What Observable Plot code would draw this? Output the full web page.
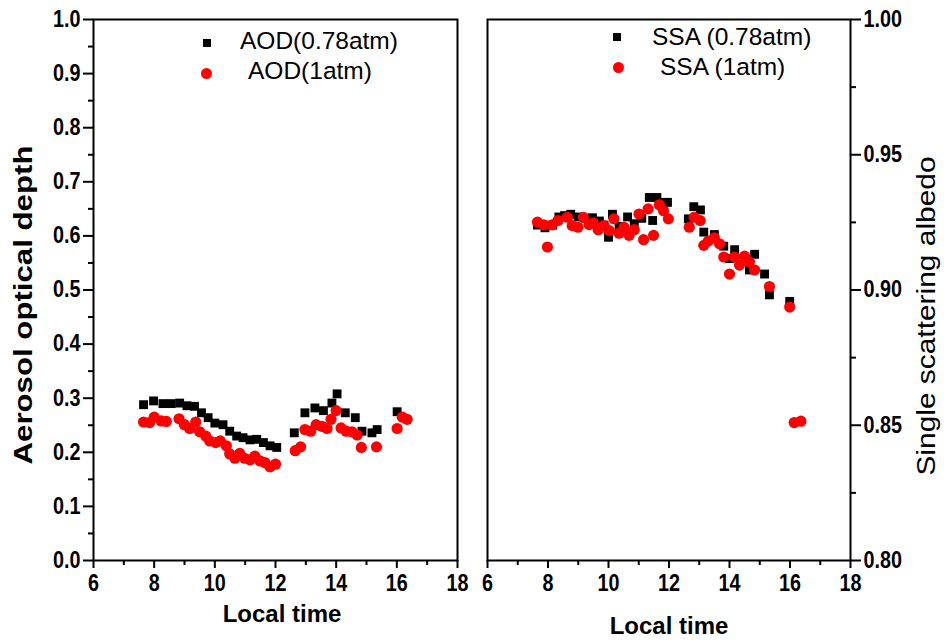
<!DOCTYPE html>
<html>
<head>
<meta charset="utf-8">
<script src="https://cdn.jsdelivr.net/npm/d3@7"></script>
<script src="https://cdn.jsdelivr.net/npm/@observablehq/plot@0.6"></script>
<style>
  html, body { margin: 0; padding: 0; background: #fff; }
  #wrap { position: relative; width: 951px; height: 640px; overflow: hidden; font-family: "Liberation Sans", Arial, sans-serif; color: #000; }
  #wrap svg { position: absolute; top: 0; overflow: visible; }
  .lab { position: absolute; white-space: nowrap; line-height: 1; }
</style>
</head>
<body>
<div id="wrap"></div>
<script>
// ---- data ----
const aodTime078 = [7.65,7.98,8.29,8.56,8.84,9.08,9.33,9.56,9.78,10.0,10.27,10.49,10.72,10.93,11.16,11.38,11.6,11.82,12.04,12.62,12.97,13.3,13.58,13.86,14.03,14.3,14.63,14.85,15.18,15.35,16.01];
const aod078 = [0.288,0.295,0.29,0.29,0.291,0.286,0.285,0.273,0.264,0.254,0.251,0.239,0.23,0.227,0.223,0.224,0.218,0.212,0.209,0.236,0.273,0.282,0.277,0.291,0.308,0.273,0.264,0.239,0.236,0.242,0.275];
const aodTime1 = [7.65,7.85,8.0,8.23,8.4,8.82,9.0,9.17,9.37,9.5,9.7,9.83,10.03,10.18,10.38,10.49,10.66,10.82,10.98,11.16,11.32,11.49,11.65,11.82,12.0,12.65,12.83,12.97,13.16,13.34,13.53,13.7,13.83,14.0,14.16,14.33,14.52,14.69,14.83,15.33,16.01,16.18,16.34];
const aod1 = [0.256,0.255,0.265,0.258,0.257,0.262,0.251,0.244,0.256,0.238,0.23,0.221,0.218,0.221,0.212,0.197,0.189,0.198,0.189,0.186,0.193,0.184,0.181,0.173,0.178,0.203,0.21,0.242,0.239,0.251,0.248,0.244,0.261,0.277,0.245,0.239,0.238,0.232,0.209,0.21,0.244,0.265,0.261];

const ssaTime078 = [7.65,7.9,8.15,8.36,8.55,8.75,9.0,9.25,9.47,9.7,9.85,10.0,10.13,10.35,10.63,10.85,11.1,11.35,11.46,11.6,11.84,11.95,12.64,12.82,13.04,13.15,13.5,13.81,14.0,14.17,14.66,14.83,15.16,15.32,15.99];
const ssa078 = [0.924,0.923,0.924,0.927,0.9275,0.928,0.927,0.9265,0.9267,0.9255,0.924,0.9195,0.928,0.9235,0.927,0.9245,0.9265,0.9342,0.9257,0.9342,0.9324,0.9324,0.9263,0.9308,0.9296,0.9214,0.9205,0.9162,0.9116,0.9149,0.9074,0.9132,0.9059,0.8982,0.8958];
const ssaTime1 = [7.65,7.86,7.98,8.14,8.33,8.64,8.8,8.99,9.17,9.36,9.5,9.66,9.85,10.02,10.18,10.35,10.51,10.68,10.85,11.01,11.16,11.31,11.49,11.68,11.82,11.98,12.67,12.83,13.03,13.15,13.3,13.5,13.67,13.81,14.0,14.17,14.33,14.5,14.66,14.83,15.32,15.99,16.14,16.36];
const ssa1 = [0.9251,0.9241,0.9159,0.9241,0.9257,0.9269,0.9238,0.9232,0.9269,0.9242,0.9248,0.9223,0.9238,0.922,0.9263,0.921,0.9232,0.9202,0.9223,0.9281,0.9186,0.93,0.9202,0.9315,0.9293,0.9263,0.9232,0.9269,0.9257,0.9165,0.9181,0.9193,0.9171,0.9122,0.9059,0.9122,0.9092,0.9125,0.9104,0.9074,0.9013,0.8937,0.851,0.8515];

const xMajor = [6,8,10,12,14,16,18];
const xMinor = [7,9,11,13,15,17];
const aodMajor = [0,0.1,0.2,0.3,0.4,0.5,0.6,0.7,0.8,0.9,1.0];
const aodMinor = [0.05,0.15,0.25,0.35,0.45,0.55,0.65,0.75,0.85,0.95];
const ssaMajor = [0.80,0.85,0.90,0.95,1.00];
const ssaMinor = [0.825,0.875,0.925,0.975];

const xLabel = "Local time";
const aodLabel = "Aerosol optical depth";
const ssaLabel = "Single scattering albedo";
const aodLegend = ["AOD(0.78atm)", "AOD(1atm)"];
const ssaLegend = ["SSA (0.78atm)", "SSA (1atm)"];

const zip = (xs, ys) => xs.map((x, i) => ({x, y: ys[i]}));

const FONT = "'Liberation Sans', Arial, sans-serif";
const baseStyle = {fontFamily: FONT, fontSize: "23px", fontWeight: "bold", color: "#000", background: "transparent", overflow: "visible"};

function xAxes() {
  return [
    Plot.axisX({ticks: xMajor, tickSize: 8, strokeWidth: 2, tickPadding: 6, tickFormat: d3.format("d"), label: null}),
    Plot.axisX({ticks: xMinor, tickSize: 5, strokeWidth: 2, tickFormat: () => "", label: null})
  ];
}

const left = Plot.plot({
  width: 470, height: 640,
  marginLeft: 93, marginRight: 13, marginTop: 19, marginBottom: 80,
  x: {domain: [6, 18]},
  y: {domain: [0, 1]},
  style: baseStyle,
  marks: [
    ...xAxes(),
    Plot.axisY({ticks: aodMajor, tickSize: 10, strokeWidth: 2, tickPadding: 3, tickFormat: d3.format(".1f"), label: null}),
    Plot.axisY({ticks: aodMinor, tickSize: 5, strokeWidth: 2, tickFormat: () => "", label: null}),
    Plot.dot(zip(aodTime078, aod078), {x: "x", y: "y", symbol: "square", r: 5, fill: "#000", stroke: "none"}),
    Plot.dot(zip(aodTime1, aod1), {x: "x", y: "y", symbol: "circle", r: 5.6, fill: "#ff0000", stroke: "none"}),
    Plot.frame({stroke: "#000", strokeWidth: 2})
  ]
});
left.style.left = "0px";

const right = Plot.plot({
  width: 481, height: 640,
  marginLeft: 17, marginRight: 101, marginTop: 19, marginBottom: 80,
  x: {domain: [6, 18]},
  y: {domain: [0.8, 1.0]},
  style: baseStyle,
  marks: [
    ...xAxes(),
    Plot.axisY({anchor: "right", ticks: ssaMajor, tickSize: 10, strokeWidth: 2, tickPadding: 3, tickFormat: d3.format(".2f"), label: null}),
    Plot.axisY({anchor: "right", ticks: ssaMinor, tickSize: 5, strokeWidth: 2, tickFormat: () => "", label: null}),
    Plot.dot(zip(ssaTime078, ssa078), {x: "x", y: "y", symbol: "square", r: 5, fill: "#000", stroke: "none"}),
    Plot.dot(zip(ssaTime1, ssa1), {x: "x", y: "y", symbol: "circle", r: 5.6, fill: "#ff0000", stroke: "none"}),
    Plot.frame({stroke: "#000", strokeWidth: 2})
  ]
});
right.style.left = "470px";

// narrow the tick label glyphs a little (condensed look of the original), around each anchor point
for (const svg of [left, right]) {
  svg.querySelectorAll("text").forEach(el => {
    const x = +el.getAttribute("x") || 0, y = +el.getAttribute("y") || 0;
    const t = el.getAttribute("transform") || "";
    el.setAttribute("transform", `${t} translate(${x},${y}) scale(0.86,1) translate(${-x},${-y})`);
  });
}

const wrap = document.getElementById("wrap");
wrap.appendChild(left);
wrap.appendChild(right);

function addLabel(text, css) {
  const d = document.createElement("div");
  d.className = "lab";
  d.textContent = text;
  Object.assign(d.style, css);
  wrap.appendChild(d);
  return d;
}

// axis titles
addLabel(xLabel, {left: "282px", top: "614px", fontSize: "24px", fontWeight: "bold", transform: "translate(-50%,-50%)"});
addLabel(xLabel, {left: "669px", top: "626px", fontSize: "24px", fontWeight: "bold", transform: "translate(-50%,-50%)"});
addLabel(aodLabel, {left: "23px", top: "305px", fontSize: "26px", fontWeight: "bold", transform: "translate(-50%,-50%) rotate(-90deg) scaleX(1.2)"});
addLabel(ssaLabel, {left: "926px", top: "316px", fontSize: "26px", fontWeight: "normal", transform: "translate(-50%,-50%) rotate(-90deg) scaleX(1.15)"});

// legends
function legendMarker(kind, cx, cy) {
  const d = document.createElement("div");
  d.style.position = "absolute";
  if (kind === "square") {
    Object.assign(d.style, {left: (cx - 4) + "px", top: (cy - 4) + "px", width: "8px", height: "8px", background: "#000"});
  } else {
    Object.assign(d.style, {left: (cx - 5.5) + "px", top: (cy - 5.5) + "px", width: "11px", height: "11px", background: "#ff0000", borderRadius: "50%"});
  }
  wrap.appendChild(d);
}
legendMarker("square", 207, 43);
legendMarker("circle", 206, 73);
addLabel(aodLegend[0], {left: "240px", top: "49px", fontSize: "24.5px", transform: "translateY(-82%)"});
addLabel(aodLegend[1], {left: "248px", top: "79px", fontSize: "24.5px", transform: "translateY(-82%)"});
legendMarker("square", 617, 37);
legendMarker("circle", 618, 67);
addLabel(ssaLegend[0], {left: "652px", top: "45px", fontSize: "24.5px", transform: "translateY(-82%)"});
addLabel(ssaLegend[1], {left: "660px", top: "75px", fontSize: "24.5px", transform: "translateY(-82%)"});
</script>
</body>
</html>
